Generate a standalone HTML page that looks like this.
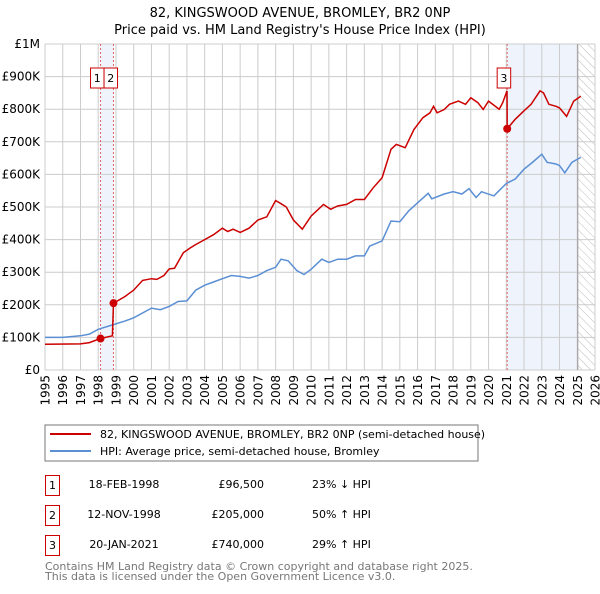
<!DOCTYPE html>
<html><head><meta charset="utf-8"><style>
body{margin:0;background:#fff;font-family:"DejaVu Sans","Liberation Sans",sans-serif;}
svg text{font-family:"DejaVu Sans","Liberation Sans",sans-serif;}
</style></head><body>
<svg id="c" width="600" height="590" xmlns="http://www.w3.org/2000/svg">
<defs><pattern id="hatch" width="6" height="6" patternUnits="userSpaceOnUse" patternTransform="rotate(-45)"><line x1="0" y1="0" x2="0" y2="6" stroke="#bbb" stroke-width="1"/></pattern></defs>
<text x="300" y="17" text-anchor="middle" font-size="13">82, KINGSWOOD AVENUE, BROMLEY, BR2 0NP</text>
<text x="300" y="34" text-anchor="middle" font-size="13">Price paid vs. HM Land Registry's House Price Index (HPI)</text>
<g id="plot"></g>
<rect x="45" y="425" width="433" height="36" fill="#fff" stroke="#777"/>
<line x1="50" y1="434" x2="91" y2="434" stroke="#cc0000" stroke-width="2"/>
<text x="100" y="438" font-size="11">82, KINGSWOOD AVENUE, BROMLEY, BR2 0NP (semi-detached house)</text>
<line x1="50" y1="451" x2="91" y2="451" stroke="#5b8fd4" stroke-width="2"/>
<text x="100" y="455" font-size="11">HPI: Average price, semi-detached house, Bromley</text>
<g font-size="11">
<rect x="45.5" y="475.5" width="14" height="20" fill="none" stroke="#cc0000"/><text x="52.5" y="489" text-anchor="middle">1</text>
<text x="124" y="488" text-anchor="middle">18-FEB-1998</text><text x="264" y="488" text-anchor="end">£96,500</text><text x="312" y="488">23% ↓ HPI</text>
<rect x="45.5" y="505.5" width="14" height="20" fill="none" stroke="#cc0000"/><text x="52.5" y="519" text-anchor="middle">2</text>
<text x="124" y="518" text-anchor="middle">12-NOV-1998</text><text x="264" y="518" text-anchor="end">£205,000</text><text x="312" y="518">50% ↑ HPI</text>
<rect x="45.5" y="535.5" width="14" height="20" fill="none" stroke="#cc0000"/><text x="52.5" y="549" text-anchor="middle">3</text>
<text x="124" y="548" text-anchor="middle">20-JAN-2021</text><text x="264" y="548" text-anchor="end">£740,000</text><text x="312" y="548">29% ↑ HPI</text>
</g>
<text x="45" y="570" font-size="11" fill="#777">Contains HM Land Registry data © Crown copyright and database right 2025.</text>
<text x="45" y="580" font-size="11" fill="#777">This data is licensed under the Open Government Licence v3.0.</text>
</svg>
<script>
const hpiYears=[1995,1996,1997,1997.5,1998,1998.9,1999.5,2000,2001,2001.5,2002,2002.5,2003,2003.5,2004,2004.5,2005,2005.5,2006,2006.5,2007,2007.5,2008,2008.3,2008.7,2009.2,2009.6,2010,2010.6,2011,2011.5,2012,2012.5,2013,2013.3,2014,2014.5,2015,2015.5,2016,2016.6,2016.8,2017.5,2018,2018.5,2018.9,2019.3,2019.6,2020.3,2020.5,2021,2021.5,2022,2022.5,2023,2023.3,2023.8,2024,2024.3,2024.7,2025.2];
const hpiValues=[100,100,105,110,125,140,150,160,190,185,195,210,212,245,260,270,280,290,287,282,290,305,315,340,335,305,293,309,340,330,340,340,350,350,380,396,457,455,488,513,542,525,540,547,540,556,529,547,534,545,572,586,616,638,662,637,632,627,605,637,652];
const propYears=[1995,1997,1997.5,1998.13,1998.8,1998.86,1999.5,2000,2000.5,2001,2001.3,2001.7,2002,2002.3,2002.8,2003.2,2003.5,2004,2004.5,2005,2005.3,2005.6,2006,2006.5,2007,2007.5,2008,2008.3,2008.6,2009,2009.5,2010,2010.7,2011.1,2011.5,2012,2012.5,2013,2013.5,2014,2014.5,2014.8,2015.3,2015.8,2016.3,2016.7,2016.9,2017.1,2017.5,2017.8,2018.3,2018.7,2019,2019.4,2019.7,2020,2020.6,2020.8,2021.04,2021.05,2021.5,2022,2022.4,2022.9,2023.1,2023.4,2023.8,2024,2024.4,2024.8,2025.2];
const propValues=[79,80,84,96.5,105,205,225,245,275,280,278,290,310,312,360,375,385,400,415,435,425,432,422,435,460,470,520,510,500,460,432,472,508,493,503,508,523,523,559,590,677,692,682,738,774,789,809,789,799,815,825,815,835,820,799,825,800,820,856,740,769,795,815,856,850,815,809,804,778,825,840];
const saleYears=[1998.13,1998.86,2021.05];
const saleValues=[96.5,205,740];
const saleLabels=["1","2","3"];
const yTicks=[0,100,200,300,400,500,600,700,800,900,1000];
const yTickLabels=["£0","£100K","£200K","£300K","£400K","£500K","£600K","£700K","£800K","£900K","£1M"];
const xTicks=[1995,1996,1997,1998,1999,2000,2001,2002,2003,2004,2005,2006,2007,2008,2009,2010,2011,2012,2013,2014,2015,2016,2017,2018,2019,2020,2021,2022,2023,2024,2025,2026];
const dataEnd=2025.03;

const X0=45,X1=595,Y0=370,Y1=44;
const sx=y=>X0+(y-1995)/(2026-1995)*(X1-X0);
const sy=v=>Y0-v/1000*(Y0-Y1);
const NS="http://www.w3.org/2000/svg";
const g=document.getElementById('plot');
function mk(t,a,p){const e=document.createElementNS(NS,t);for(const k in a)e.setAttribute(k,a[k]);(p||g).appendChild(e);return e;}

let e=mk('rect',{x:sx(saleYears[0]),y:Y1,width:sx(saleYears[1])-sx(saleYears[0]),height:Y0-Y1,fill:'#eef3fc'});


e=mk('rect',{x:sx(saleYears[2]),y:Y1,width:sx(dataEnd)-sx(saleYears[2]),height:Y0-Y1,fill:'#eef3fc'});


e=mk('rect',{x:sx(dataEnd),y:Y1,width:X1-sx(dataEnd),height:Y0-Y1,fill:'url(#hatch)'});



yTicks.forEach((v,i)=>{
  let l=mk('line',{x1:X0,x2:X1,y1:sy(v),y2:sy(v),stroke:'#ccc'});
  
  
  let t=mk('text',{x:40,y:sy(v)+4,'text-anchor':'end','font-size':12});
  
  
  t.textContent=yTickLabels[i];
});
xTicks.forEach(y=>{
  let l=mk('line',{x1:sx(y),x2:sx(y),y1:Y1,y2:Y0,stroke:'#ccc'});
  
  
  const tx=sx(y)+4.5;
  let t=mk('text',{x:tx,y:375,'text-anchor':'end','font-size':12,transform:'rotate(-90 '+tx+' 375)'});
  
  
  t.textContent=y;
});
e=mk('line',{x1:sx(dataEnd),x2:sx(dataEnd),y1:Y1,y2:Y0,stroke:'#999'});



saleYears.forEach((y,i)=>{
  let l=mk('line',{x1:sx(y),x2:sx(y),y1:Y1,y2:Y0,stroke:'#e06666','stroke-dasharray':'2,2'});
  
  
});

const pts=(xs,vs)=>xs.map((y,i)=>sx(y).toFixed(1)+','+sy(vs[i]).toFixed(1)).join(' ');
e=mk('polyline',{points:pts(hpiYears,hpiValues),fill:'none',stroke:'#5b8fd4','stroke-width':1.5});


e=mk('polyline',{points:pts(propYears,propValues),fill:'none',stroke:'#cc0000','stroke-width':1.5});



saleYears.forEach((y,i)=>{
  let c=mk('circle',{cx:sx(y),cy:sy(saleValues[i]),r:4,fill:'#cc0000'});
  
  
});
const boxX=[sx(saleYears[0])-10,sx(saleYears[0])+3.5,sx(saleYears[2])-10];
saleLabels.forEach((s,i)=>{
  let r=mk('rect',{x:boxX[i],y:68,width:13.5,height:20,fill:'#fff',stroke:'#cc0000'});
  
  
  let t=mk('text',{x:boxX[i]+6.75,y:82,'text-anchor':'middle','font-size':11});
  
  
  t.textContent=s;
});
</script>
</body></html>
